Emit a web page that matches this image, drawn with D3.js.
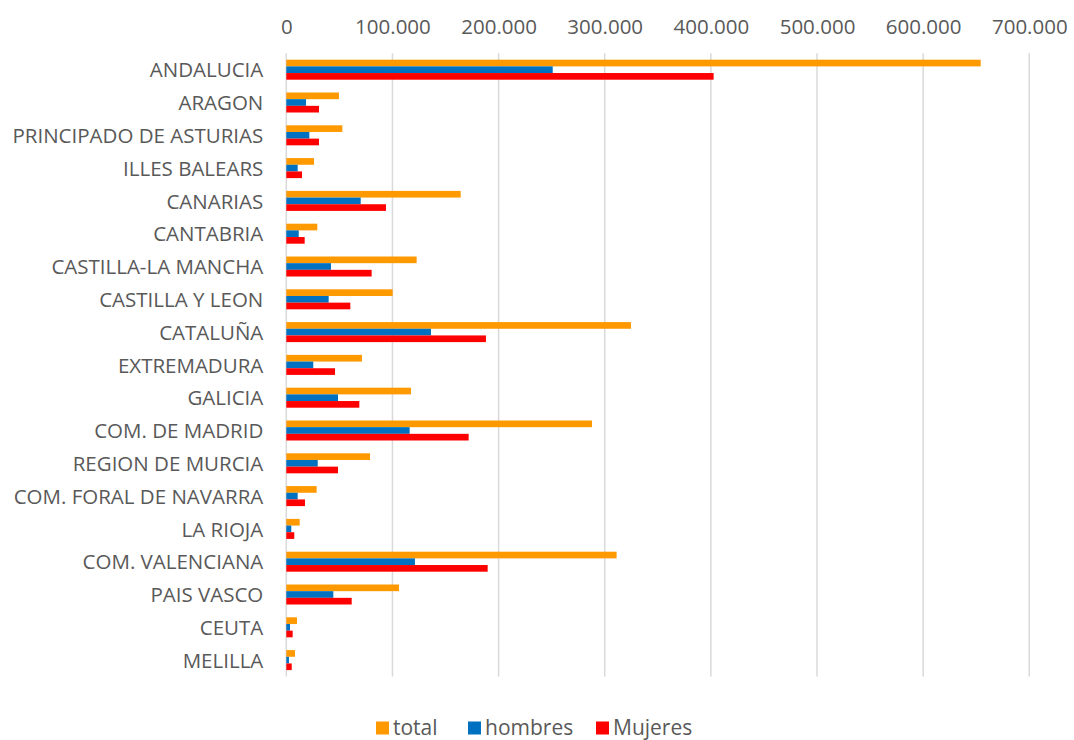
<!DOCTYPE html>
<html><head><meta charset="utf-8">
<script src="https://cdn.jsdelivr.net/npm/d3@7"></script>
<style>body{margin:0;background:#fff}svg{display:block}text{font-family:"Open Sans",sans-serif;fill:#595959}</style>
</head><body><svg id="c" width="1074" height="740"></svg>
<script>
const categories = ["ANDALUCIA","ARAGON","PRINCIPADO DE ASTURIAS","ILLES BALEARS","CANARIAS","CANTABRIA","CASTILLA-LA MANCHA","CASTILLA Y LEON","CATALUÑA","EXTREMADURA","GALICIA","COM. DE MADRID","REGION DE MURCIA","COM. FORAL DE NAVARRA","LA RIOJA","COM. VALENCIANA","PAIS VASCO","CEUTA","MELILLA"];
const total    = [654200,49600,52800,26100,164300,29200,122800,100200,324700,71300,117500,288000,78900,28600,12600,311200,106200,10100,8200];
const hombres  = [251000,18600,21700,10700,70100,11700,42100,39900,136300,25400,48700,116200,29600,10700,4700,121200,44300,3500,2500];
const mujeres  = [402600,30800,30800,14800,93900,17300,80400,60300,188100,45900,68800,171800,48700,17600,7500,189700,61600,6000,5100];
const tickValues = [0,100000,200000,300000,400000,500000,600000,700000];
const seriesNames = ["total","hombres","Mujeres"];
const seriesColors = ["#FF9900","#0070C0","#FF0000"];
const seriesData = [total,hombres,mujeres];

const svg = d3.select("#c");
const x = d3.scaleLinear().domain([0,700000]).range([286.3,1029.3]);
const y = d3.scaleBand().domain(categories).range([53.3,676.5]).paddingInner(0.39).paddingOuter(0.195);
const ySub = d3.scaleBand().domain(seriesNames).range([0,y.bandwidth()]);
const fmt = d => d3.format(",")(d).replace(/,/g,".");

// gridlines
svg.append("g").selectAll("line").data(tickValues).join("line")
  .attr("x1",d=>x(d)).attr("x2",d=>x(d)).attr("y1",53.3).attr("y2",676.5)
  .attr("stroke","#D9D9D9").attr("stroke-width",1.5);

// top axis labels
const ax = svg.append("g").attr("transform","translate(0,42)")
  .call(d3.axisTop(x).tickValues(tickValues).tickFormat(fmt).tickSize(0).tickPadding(0));
ax.select(".domain").remove();
ax.selectAll("text").style("font-size","20.5px").attr("fill","#595959").attr("dy","-0.4em");

// bars
seriesNames.forEach((s,i)=>{
  svg.append("g").selectAll("rect").data(seriesData[i]).join("rect")
    .attr("x",x(0)).attr("y",(d,j)=>y(categories[j])+ySub(s))
    .attr("width",d=>x(d)-x(0)).attr("height",ySub.bandwidth())
    .attr("fill",seriesColors[i]);
});

// category axis
const ay = svg.append("g").attr("transform","translate(286.3,0)")
  .call(d3.axisLeft(y).tickSize(0).tickPadding(23));
ay.select(".domain").remove();
ay.selectAll("text").style("font-size","20.5px").attr("fill","#595959").attr("dy","0.38em");

// legend
const legX = [376,468,596];
const lg = svg.append("g");
seriesNames.forEach((s,i)=>{
  lg.append("rect").attr("x",legX[i]).attr("y",721.5).attr("width",13).attr("height",13).attr("fill",seriesColors[i]);
  lg.append("text").attr("x",legX[i]+17).attr("y",728).attr("dy","0.35em").style("font-size","21px").text(s);
});
</script></body></html>
